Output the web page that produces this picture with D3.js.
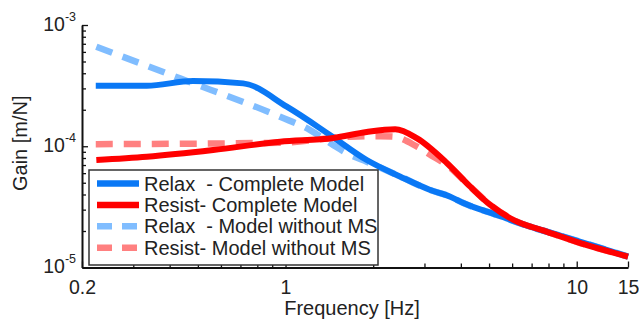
<!DOCTYPE html>
<html>
<head>
<meta charset="utf-8">
<script src="https://cdn.jsdelivr.net/npm/d3@7"></script>
<style>
  body { margin: 0; background: #fff; }
  text { font-family: "Liberation Sans", Arial, sans-serif; fill: #222; }
</style>
</head>
<body>
<div class="canvas"></div>
<script>
// data (frequency in Hz, gain in m/N)
const relaxFreq = [0.223, 0.334, 0.481, 0.715, 1.01, 1.42, 1.90, 2.48, 3.14, 3.68, 4.08, 5.32, 6.93, 8.99, 11.74, 15];
const relaxGain = [3.16e-4, 3.16e-4, 3.45e-4, 3.30e-4, 2.12e-4, 1.24e-4, 7.70e-5, 5.61e-5, 4.36e-5, 3.84e-5, 3.40e-5, 2.71e-5, 2.17e-5, 1.80e-5, 1.48e-5, 1.23e-5];

const resistFreq = [0.224, 0.334, 0.564, 0.958, 1.46, 1.90, 2.38, 2.83, 3.58, 4.31, 5.05, 6.06, 7.91, 10.29, 15];
const resistGain = [7.70e-5, 8.20e-5, 9.31e-5, 1.09e-4, 1.17e-4, 1.31e-4, 1.38e-4, 1.16e-4, 7.28e-5, 4.64e-5, 3.28e-5, 2.47e-5, 1.97e-5, 1.59e-5, 1.23e-5];

const relaxNoMsFreq = [0.224, 0.434, 0.958, 1.215, 1.46, 1.67, 1.90, 2.48, 3.14, 3.68, 4.08, 5.32, 6.93, 8.99, 11.74, 15];
const relaxNoMsGain = [6.62e-4, 3.63e-4, 1.75e-4, 1.36e-4, 1.02e-4, 8.47e-5, 7.46e-5, 5.61e-5, 4.36e-5, 3.84e-5, 3.40e-5, 2.71e-5, 2.17e-5, 1.80e-5, 1.48e-5, 1.23e-5];

const resistNoMsFreq = [0.223, 0.958, 1.67, 2.11, 2.34, 2.83, 3.22, 3.58, 4.31, 5.05, 6.06, 7.91, 10.29, 15];
const resistNoMsGain = [1.04e-4, 1.07e-4, 1.20e-4, 1.21e-4, 1.20e-4, 9.92e-5, 8.20e-5, 7.0e-5, 4.64e-5, 3.28e-5, 2.47e-5, 1.97e-5, 1.59e-5, 1.23e-5];

const xTicks = [0.2, 1, 10, 15];
const xMinor = [0.3, 0.4, 0.5, 0.6, 0.7, 0.8, 0.9, 2, 3, 4, 5, 6, 7, 8, 9];
const yTicks = [1e-5, 1e-4, 1e-3];
const yMinor = [2e-5, 3e-5, 4e-5, 5e-5, 6e-5, 7e-5, 8e-5, 9e-5, 2e-4, 3e-4, 4e-4, 5e-4, 6e-4, 7e-4, 8e-4, 9e-4];

const legendLabels = [
  'Relax  - Complete Model',
  'Resist- Complete Model',
  'Relax  - Model without MS',
  'Resist- Model without MS'
];

const series = [
  { f: relaxFreq, g: relaxGain, color: '#0a78f5', dash: null },
  { f: resistFreq, g: resistGain, color: '#ff0000', dash: null },
  { f: relaxNoMsFreq, g: relaxNoMsGain, color: '#80bdff', dash: '17,11' },
  { f: resistNoMsFreq, g: resistNoMsGain, color: '#ff8080', dash: '17,11' }
];

const width = 639;
const height = 321;
const margin = { top: 25, right: 11, bottom: 53.5, left: 82 };

const svg = d3.select('.canvas')
  .append('svg')
  .attr('width', width)
  .attr('height', height);

const x = d3.scaleLog()
  .domain([0.2, 15])
  .range([margin.left, width - margin.right]);

const y = d3.scaleLog()
  .domain([1e-5, 1e-3])
  .range([height - margin.bottom, margin.top]);

// lines (drawn first, legend sits on top)
const line = d3.line()
  .x(d => x(d[0]))
  .y(d => y(d[1]))
  .curve(d3.curveMonotoneX);

// dashed ones under the solid ones
[2, 3, 0, 1].forEach(i => {
  const s = series[i];
  svg.append('path')
    .datum(s.f.map((f, j) => [f, s.g[j]]))
    .attr('d', line)
    .attr('fill', 'none')
    .attr('stroke', s.color)
    .attr('stroke-width', s.dash ? 6.5 : 6)
    .attr('stroke-linejoin', 'round')
    .attr('stroke-dasharray', s.dash);
});

// axes
const xAxisGroup = svg.append('g')
  .attr('transform', `translate(0, ${height - margin.bottom})`);
xAxisGroup.call(d3.axisBottom(x)
  .tickValues(xTicks)
  .tickFormat(d => d)
  .tickSizeInner(-6)
  .tickSizeOuter(0)
  .tickPadding(13));

const xMinorGroup = svg.append('g')
  .attr('transform', `translate(0, ${height - margin.bottom})`);
xMinorGroup.call(d3.axisBottom(x)
  .tickValues(xMinor)
  .tickFormat('')
  .tickSizeInner(-4)
  .tickSizeOuter(0));
xMinorGroup.select('.domain').remove();

const yAxisGroup = svg.append('g')
  .attr('transform', `translate(${margin.left}, 0)`);
yAxisGroup.call(d3.axisLeft(y)
  .tickValues(yTicks)
  .tickSizeInner(-6)
  .tickSizeOuter(0)
  .tickPadding(6));

const yMinorGroup = svg.append('g')
  .attr('transform', `translate(${margin.left}, 0)`);
yMinorGroup.call(d3.axisLeft(y)
  .tickValues(yMinor)
  .tickFormat('')
  .tickSizeInner(-4)
  .tickSizeOuter(0));
yMinorGroup.select('.domain').remove();

svg.selectAll('.domain')
  .attr('stroke', '#111')
  .attr('stroke-width', 2);
svg.selectAll('.tick line')
  .attr('stroke', '#111')
  .attr('stroke-width', 1.3);

xAxisGroup.selectAll('.tick text')
  .attr('font-size', 19.5)
  .attr('font-family', '"Liberation Sans", Arial, sans-serif')
  .attr('fill', '#222');

// 10^n labels with superscript
yAxisGroup.selectAll('.tick text')
  .attr('font-family', '"Liberation Sans", Arial, sans-serif')
  .attr('fill', '#222')
  .attr('x', -6)
  .attr('dy', '0.5em')
  .text(null)
  .each(function(d) {
    const t = d3.select(this);
    t.append('tspan').attr('font-size', 19.5).text('10');
    t.append('tspan')
      .attr('font-size', 12.5)
      .attr('dy', -10)
      .text(Math.round(Math.log10(d)));
  });

// axis titles
svg.append('text')
  .attr('x', (x.range()[0] + x.range()[1]) / 2 - 3)
  .attr('y', 315)
  .attr('text-anchor', 'middle')
  .attr('font-size', 20)
  .text('Frequency [Hz]');

svg.append('text')
  .attr('transform', `translate(27, ${(y.range()[0] + y.range()[1]) / 2 - 3}) rotate(-90)`)
  .attr('text-anchor', 'middle')
  .attr('font-size', 20)
  .text('Gain [m/N]');

// legend
const legend = svg.append('g')
  .attr('transform', 'translate(89, 170)');

legend.append('rect')
  .attr('width', 289)
  .attr('height', 95)
  .attr('fill', '#fff')
  .attr('stroke', '#333')
  .attr('stroke-width', 1.5);

legendLabels.forEach((label, i) => {
  const s = series[i];
  const yy = 13.5 + i * 21.4;
  legend.append('line')
    .attr('x1', 8)
    .attr('x2', 50)
    .attr('y1', yy)
    .attr('y2', yy)
    .attr('stroke', s.color)
    .attr('stroke-width', 6.5)
    .attr('stroke-dasharray', s.dash ? '15,10' : null);
  legend.append('text')
    .attr('x', 55)
    .attr('y', yy + 7)
    .attr('font-size', 20)
    .style('white-space', 'pre')
    .text(label);
});
</script>
</body>
</html>
